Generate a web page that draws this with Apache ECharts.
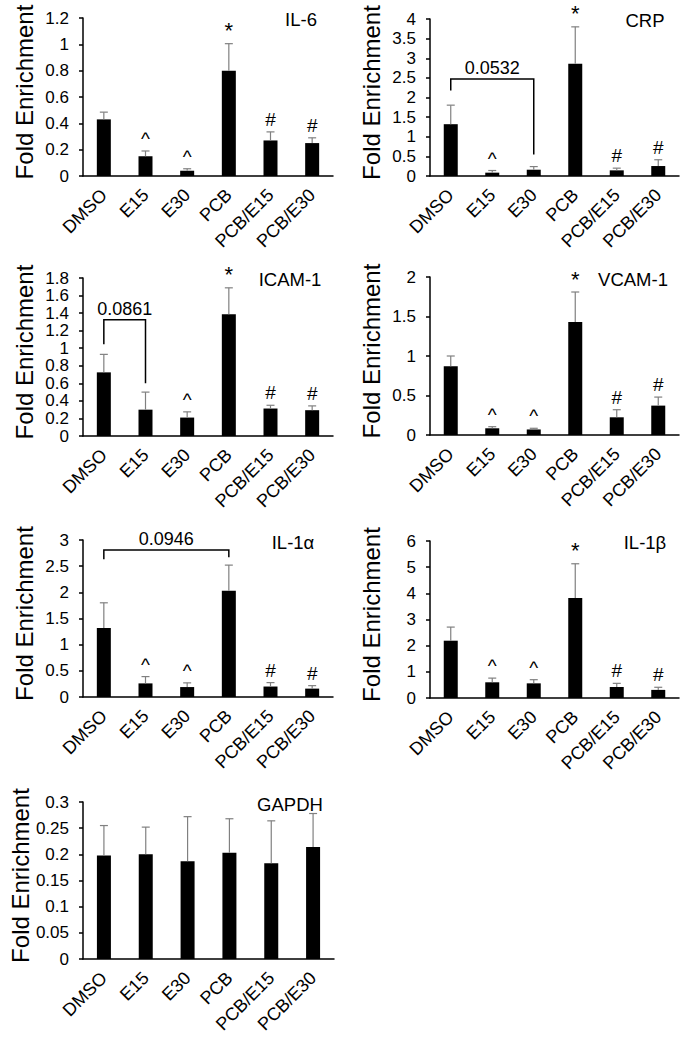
<!DOCTYPE html>
<html><head><meta charset="utf-8">
<script src="https://cdn.jsdelivr.net/npm/echarts@6/dist/echarts.min.js"></script>
<style>html,body{margin:0;padding:0;background:#fff}#c{width:689px;height:1049px}</style>
</head><body><div id="c"></div><script>
const categories = ['DMSO','E15','E30','PCB','PCB/E15','PCB/E30'];

const il6Mean  = [0.43, 0.15, 0.04, 0.80, 0.27, 0.25];
const il6Err   = [0.055, 0.04, 0.015, 0.205, 0.065, 0.04];
const il6Mark  = ['', '^', '^', '*', '#', '#'];

const crpMean  = [1.32, 0.085, 0.16, 2.86, 0.144, 0.254];
const crpErr   = [0.485, 0.055, 0.08, 0.94, 0.056, 0.16];
const crpMark  = ['', '^', '', '*', '#', '#'];

const icamMean = [0.725, 0.30, 0.21, 1.388, 0.313, 0.294];
const icamErr  = [0.205, 0.20, 0.065, 0.30, 0.037, 0.049];
const icamMark = ['', '', '^', '*', '#', '#'];

const vcamMean = [0.87, 0.085, 0.07, 1.43, 0.224, 0.372];
const vcamErr  = [0.13, 0.02, 0.015, 0.38, 0.096, 0.108];
const vcamMark = ['', '^', '^', '*', '#', '#'];

const il1aMean = [1.32, 0.26, 0.19, 2.03, 0.20, 0.16];
const il1aErr  = [0.48, 0.13, 0.08, 0.49, 0.075, 0.057];
const il1aMark = ['', '^', '^', '', '#', '#'];

const il1bMean = [2.19, 0.60, 0.56, 3.82, 0.42, 0.31];
const il1bErr  = [0.52, 0.16, 0.14, 1.31, 0.14, 0.10];
const il1bMark = ['', '^', '^', '*', '#', '#'];

const gapdhMean = [0.198, 0.200, 0.187, 0.203, 0.183, 0.214];
const gapdhErr  = [0.057, 0.052, 0.085, 0.065, 0.081, 0.064];
const gapdhMark = ['', '', '', '', '', ''];

// brackets: [fromCategoryIndex, toCategoryIndex, leftLegBottom, rightLegBottom, top, label]
const crpBracket  = [0, 2, 2.18, 0.55, 2.47, '0.0532'];
const icamBracket = [0, 1, 1.045, 0.60, 1.323, '0.0861'];
const il1aBracket = [0, 3, 2.63, 2.67, 2.81, '0.0946'];

const panelNames = ['IL-6', 'CRP', 'ICAM-1', 'VCAM-1', 'IL-1α', 'IL-1β', 'GAPDH'];
const axisMax      = [1.2, 4, 1.8, 2, 3, 6, 0.3];
const axisInterval = [0.2, 0.5, 0.2, 0.5, 0.5, 1, 0.05];
const yAxisName = 'Fold Enrichment';

const panels = [
  {mean: il6Mean, err: il6Err, mark: il6Mark, bracket: null},
  {mean: crpMean, err: crpErr, mark: crpMark, bracket: crpBracket},
  {mean: icamMean, err: icamErr, mark: icamMark, bracket: icamBracket},
  {mean: vcamMean, err: vcamErr, mark: vcamMark, bracket: null},
  {mean: il1aMean, err: il1aErr, mark: il1aMark, bracket: il1aBracket},
  {mean: il1bMean, err: il1bErr, mark: il1bMark, bracket: null},
  {mean: gapdhMean, err: gapdhErr, mark: gapdhMark, bracket: null}
];

// layout
const grids = [
  {left: 83, top: 18, width: 250, height: 158},
  {left: 430, top: 19, width: 249, height: 157},
  {left: 83, top: 278, width: 250, height: 158},
  {left: 430, top: 277, width: 249, height: 158},
  {left: 83, top: 540, width: 250, height: 157},
  {left: 430, top: 541, width: 249, height: 157},
  {left: 83, top: 802, width: 251, height: 157}
];
const titlePos = [[301, 19], [645, 20], [290, 279], [633, 279], [293, 542], [645, 542], [290, 804]];

const FONT = '"Liberation Sans", Arial, sans-serif';
const chart = echarts.init(document.getElementById('c'), null, {renderer: 'svg'});

const option = {
  animation: false,
  backgroundColor: '#fff',
  grid: grids.map(g => Object.assign({containLabel: false}, g)),
  xAxis: panels.map((p, i) => ({
    type: 'category', gridIndex: i, data: categories,
    axisLine: {lineStyle: {color: '#000', width: 1.5}},
    axisTick: {show: false},
    axisLabel: {rotate: 45, interval: 0, margin: 16, color: '#000', fontSize: 18, fontFamily: FONT}
  })),
  yAxis: panels.map((p, i) => ({
    type: 'value', gridIndex: i, min: 0, max: axisMax[i], interval: axisInterval[i],
    name: yAxisName, nameLocation: 'middle', nameGap: 47, nameRotate: 90,
    nameTextStyle: {color: '#000', fontSize: 24, fontFamily: FONT, padding: [0, 0, 0, 10]},
    splitLine: {show: false},
    axisLine: {show: true, lineStyle: {color: '#000', width: 1.5}},
    axisTick: {show: true, length: 4, lineStyle: {color: '#000', width: 1.5}},
    axisLabel: {color: '#000', fontSize: 17, lineHeight: 14, fontFamily: FONT, margin: 14,
      hideOverlap: false, showMinLabel: true, showMaxLabel: true}
  })),
  graphic: panelNames.map((n, i) => ({
    type: 'text', x: titlePos[i][0], y: titlePos[i][1],
    style: {text: n, fontSize: 18.5, fontFamily: FONT, fill: '#000', align: 'center', verticalAlign: 'middle'}
  })),
  series: []
};

panels.forEach((p, i) => {
  option.series.push({
    type: 'bar', xAxisIndex: i, yAxisIndex: i, data: p.mean, barWidth: 14,
    itemStyle: {color: '#000'}, silent: true
  });
  option.series.push({
    type: 'custom', xAxisIndex: i, yAxisIndex: i, silent: true, clip: false, z: 3,
    data: p.mean.map((m, k) => [k, m, m + p.err[k], p.mark[k]]),
    renderItem: function (params, api) {
      const base = api.coord([api.value(0), api.value(1)]);
      const top = api.coord([api.value(0), api.value(2)]);
      const mark = p.mark[params.dataIndex];
      const children = [
        {type: 'line', shape: {x1: base[0], y1: base[1], x2: top[0], y2: top[1]}, style: {stroke: '#808080', lineWidth: 1.2}},
        {type: 'line', shape: {x1: top[0] - 4, y1: top[1], x2: top[0] + 4, y2: top[1]}, style: {stroke: '#808080', lineWidth: 1.2}}
      ];
      if (mark) {
        const isStar = mark === '*';
        children.push({type: 'text', x: top[0], y: top[1] - (isStar ? 2 : 3),
          style: {text: mark, fontSize: isStar ? 22 : 19, fontFamily: FONT, fill: '#000', align: 'center', verticalAlign: 'bottom'}});
      }
      return {type: 'group', children: children};
    }
  });
  if (p.bracket) {
    const b = p.bracket;
    option.series.push({
      type: 'custom', xAxisIndex: i, yAxisIndex: i, silent: true, clip: false, z: 4,
      data: [[b[0], b[4], b[1], b[2], b[3]]],
      renderItem: function (params, api) {
        const x1 = api.coord([b[0], b[2]]);
        const t1 = api.coord([b[0], b[4]]);
        const x2 = api.coord([b[1], b[3]]);
        const t2 = api.coord([b[1], b[4]]);
        return {type: 'group', children: [
          {type: 'polyline', shape: {points: [x1, t1, t2, x2]}, style: {stroke: '#000', lineWidth: 1.5, fill: null}},
          {type: 'text', x: (t1[0] + t2[0]) / 2, y: t1[1] - 2,
            style: {text: b[5], fontSize: 18, fontFamily: FONT, fill: '#000', align: 'center', verticalAlign: 'bottom'}}
        ]};
      }
    });
  }
});

chart.setOption(option);
</script></body></html>
